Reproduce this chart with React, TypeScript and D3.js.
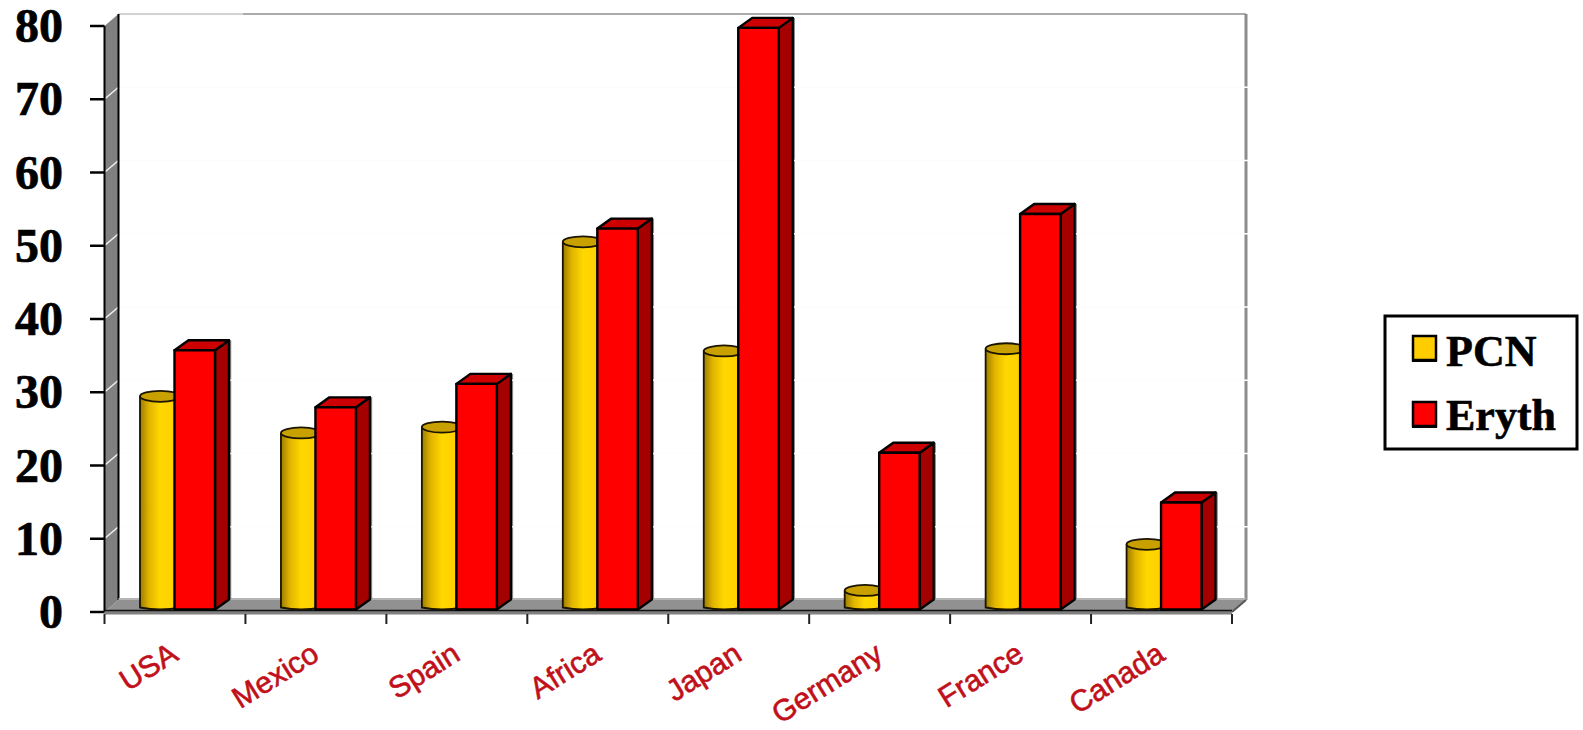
import React from "react";
import * as d3 from "d3";

const categories = ["USA", "Mexico", "Spain", "Africa", "Japan", "Germany", "France", "Canada"];
const pcnValues = [29.1, 24.1, 24.9, 50.2, 35.3, 2.6, 35.6, 8.9];
const erythValues = [35.4, 27.6, 30.8, 52, 79.4, 21.4, 54, 14.6];
const yTicks = [0, 10, 20, 30, 40, 50, 60, 70, 80];
const legendItems = [
  { label: "PCN", colour: "#FFCC00" },
  { label: "Eryth", colour: "#FF0000" },
];

const WIDTH = 1583;
const HEIGHT = 730;
const SERIF = "'Liberation Serif', serif";
const SANS = "'Liberation Sans', sans-serif";

// Oblique depth of the chart box and of the bars.
const WALL_DX = 14;
const WALL_DY = -12;
const BAR_DX = 14;
const BAR_DY = -10;
const BAR_W = 40.5;
const BASE_SHIFT = -2.5;

const x0 = d3.scaleBand<string>().domain(categories).range([104.5, 1232]);
const y = d3.scaleLinear().domain([0, 80]).range([612, 26]);
const xInner = d3.scaleBand<string>().domain(["PCN", "Eryth"]).range([35.5, 104.5]);

const poly = (pts: [number, number][]) => {
  const p = d3.path();
  pts.forEach(([a, b], i) => (i ? p.lineTo(a, b) : p.moveTo(a, b)));
  p.closePath();
  return p.toString();
};

function Cylinder({ cat, value }: { cat: string; value: number }) {
  const left = (x0(cat) as number) + (xInner("PCN") as number);
  const rx = BAR_W / 2;
  const ry = 5.5;
  const top = y(value) + BASE_SHIFT;
  const base = y(0) + BASE_SHIFT;
  const cx = left + rx;
  const p = d3.path();
  p.moveTo(left, top);
  p.lineTo(left, base - 2);
  p.quadraticCurveTo(cx, base + 2, left + BAR_W, base - 2);
  p.lineTo(left + BAR_W, top);
  return (
    <g stroke="#1a1400" strokeWidth={1.8}>
      <path d={p.toString()} fill="url(#cylBody)" />
      <ellipse cx={cx} cy={top} rx={rx} ry={ry} fill="#C8A000" />
    </g>
  );
}

function Box({ cat, value }: { cat: string; value: number }) {
  const left = (x0(cat) as number) + (xInner("Eryth") as number);
  const right = left + BAR_W;
  const top = y(value) + BASE_SHIFT;
  const base = y(0) + BASE_SHIFT;
  const edge = right + BAR_DX;
  const gridYs = yTicks.filter((t) => t > 0 && y(t) + WALL_DY > top + BAR_DY && y(t) + WALL_DY < base);
  return (
    <g>
      <line x1={edge + 1.5} x2={edge + 1.5} y1={top + BAR_DY} y2={base + BAR_DY} stroke="#8c8c8c" strokeWidth={1.5} />
      {gridYs.map((t) => (
        <line key={t} x1={edge} x2={edge + 3} y1={y(t) + WALL_DY} y2={y(t) + WALL_DY} stroke="#fff" strokeWidth={1.5} />
      ))}
      <g stroke="#000" strokeWidth={2.4} strokeLinejoin="round">
        <path d={poly([[right, top], [edge, top + BAR_DY], [edge, base + BAR_DY], [right, base]])} fill="#A50000" />
        <path d={poly([[left, top], [left + BAR_DX, top + BAR_DY], [edge, top + BAR_DY], [right, top]])} fill="#CC0000" />
        <rect x={left} y={top} width={BAR_W} height={base - top} fill="#FF0000" />
      </g>
    </g>
  );
}

export default function App() {
  const axisLeft = x0.range()[0];
  const axisRight = x0.range()[1];
  const ticksX = [...categories.map((c) => x0(c) as number), axisRight];
  const yBottom = y(0);
  const yTop = y(80);
  return (
    <svg
      width={WIDTH}
      height={HEIGHT}
      viewBox={`0 0 ${WIDTH} ${HEIGHT}`}
      style={{ position: "absolute", left: 0, top: 0, background: "#fff" }}
    >
      <defs>
        <linearGradient id="cylBody" x1="0" x2="1" y1="0" y2="0">
          <stop offset="0" stopColor="#9C7C00" />
          <stop offset="0.22" stopColor="#E0B400" />
          <stop offset="0.5" stopColor="#FFD800" />
          <stop offset="1" stopColor="#FFCC00" />
        </linearGradient>
      </defs>

      {/* Back wall outline and faint grid */}
      {yTicks.slice(1, -1).map((t) => (
        <line key={t} x1={axisLeft + WALL_DX} x2={axisRight + WALL_DX} y1={y(t) + WALL_DY} y2={y(t) + WALL_DY} stroke="#FCFCFC" />
      ))}
      <line x1={axisLeft + WALL_DX} x2={243} y1={yTop + WALL_DY} y2={yTop + WALL_DY} stroke="#D2D2D2" strokeWidth={2} />
      <line x1={243} x2={axisRight + WALL_DX} y1={yTop + WALL_DY} y2={yTop + WALL_DY} stroke="#ABABAB" strokeWidth={2} />
      <line x1={axisRight + WALL_DX} x2={axisRight + WALL_DX} y1={yTop + WALL_DY} y2={yBottom + WALL_DY} stroke="#8C8C8C" strokeWidth={3} />
      {yTicks.slice(1, -1).map((t) => (
        <line key={t} x1={axisRight + WALL_DX - 2} x2={axisRight + WALL_DX + 2} y1={y(t) + WALL_DY} y2={y(t) + WALL_DY} stroke="#fff" strokeWidth={1.5} />
      ))}

      {/* Left wall */}
      <path
        d={poly([[axisLeft, yTop], [axisLeft + WALL_DX, yTop + WALL_DY], [axisLeft + WALL_DX, yBottom + WALL_DY], [axisLeft, yBottom]])}
        fill="#808080"
      />
      {yTicks.slice(1, -1).map((t) => (
        <line key={t} x1={axisLeft + 1} x2={axisLeft + WALL_DX} y1={y(t) - 1} y2={y(t) + WALL_DY} stroke="#F2F2F2" strokeWidth={1.5} />
      ))}
      <line x1={axisLeft + WALL_DX} x2={axisLeft + WALL_DX} y1={yTop + WALL_DY} y2={yBottom + WALL_DY} stroke="#000" strokeWidth={2} />
      <line x1={axisLeft} x2={axisLeft} y1={yTop} y2={yBottom} stroke="#000" strokeWidth={2} />

      {/* Floor */}
      <path
        d={poly([[axisLeft, yBottom], [axisLeft + WALL_DX, yBottom + WALL_DY], [axisRight + WALL_DX, yBottom + WALL_DY], [axisRight, yBottom]])}
        fill="#919191"
      />
      <line x1={axisLeft + WALL_DX} x2={axisRight + WALL_DX} y1={yBottom + WALL_DY - 1} y2={yBottom + WALL_DY - 1} stroke="#B4B4B4" strokeWidth={2} />
      <rect x={axisLeft} y={yBottom - 1} width={axisRight - axisLeft} height={3.5} fill="#808080" />
      <line x1={axisLeft} x2={axisRight} y1={yBottom - 1.5} y2={yBottom - 1.5} stroke="#111" strokeWidth={1.5} />
      <line x1={axisRight} x2={axisRight + WALL_DX} y1={yBottom} y2={yBottom + WALL_DY} stroke="#555" strokeWidth={2} />

      {/* Bars, cylinder first so the box overlaps it */}
      {categories.map((c, i) => (
        <g key={c}>
          <Cylinder cat={c} value={pcnValues[i]} />
          <Box cat={c} value={erythValues[i]} />
        </g>
      ))}

      {/* Y axis */}
      {yTicks.map((t) => (
        <g key={t}>
          <line x1={90} x2={axisLeft} y1={y(t)} y2={y(t)} stroke="#000" strokeWidth={2.5} />
          <text
            x={63}
            y={y(t) + 16}
            textAnchor="end"
            fontFamily={SERIF}
            fontWeight={700}
            fontSize={48}
            fill="#000"
            stroke="#000"
            strokeWidth={0.7}
          >
            {t}
          </text>
        </g>
      ))}

      {/* X axis */}
      {ticksX.map((tx) => (
        <line key={tx} x1={tx} x2={tx} y1={yBottom + 2} y2={yBottom + 12} stroke="#222" strokeWidth={2} />
      ))}
      {categories.map((c) => {
        const mx = (x0(c) as number) + x0.bandwidth() / 2 + 5;
        return (
          <text
            key={c}
            transform={`translate(${mx},${659}) rotate(-32)`}
            textAnchor="end"
            fontFamily={SANS}
            fontSize={30}
            fill="#C0101A"
            stroke="#C0101A"
            strokeWidth={0.6}
          >
            {c}
          </text>
        );
      })}

      {/* Legend */}
      <rect x={1385} y={316} width={192} height={133} fill="#fff" stroke="#000" strokeWidth={3} />
      {legendItems.map((item, i) => {
        const top = 336 + i * 66;
        return (
          <g key={item.label}>
            <rect x={1413} y={top} width={23} height={24} fill={item.colour} stroke="#000" strokeWidth={2.5} />
            <line x1={1412} x2={1437} y1={top + 25} y2={top + 25} stroke="#000" strokeWidth={2} />
            <text
              x={1446}
              y={top + 30 - i * 2}
              fontFamily={SERIF}
              fontWeight={700}
              fontSize={44}
              fill="#000"
              stroke="#000"
              strokeWidth={0.6}
            >
              {item.label}
            </text>
          </g>
        );
      })}
    </svg>
  );
}
